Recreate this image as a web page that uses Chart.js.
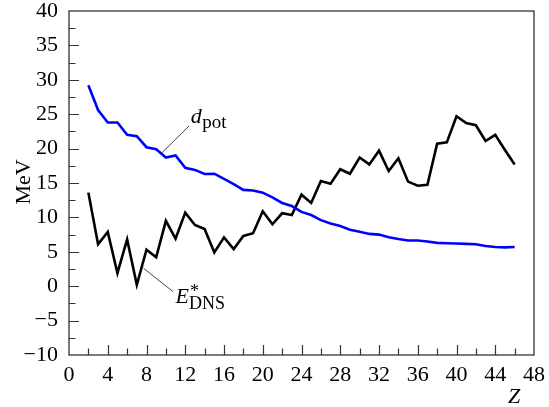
<!DOCTYPE html>
<html>
<head>
<meta charset="utf-8">
<script src="https://cdn.jsdelivr.net/npm/chart.js@4.4.1/dist/chart.umd.min.js"></script>
<style>
  html, body { margin: 0; padding: 0; background: #fff; }
  #wrap { width: 549px; height: 407px; }
</style>
</head>
<body>
<div id="wrap"><canvas id="c" width="549" height="407"></canvas></div>
<script>
// Atomic number Z
const zValues = [2, 3, 4, 5, 6, 7, 8, 9, 10, 11, 12, 13, 14, 15, 16,
  17, 18, 19, 20, 21, 22, 23, 24, 25, 26, 27, 28, 29, 30, 31, 32, 33,
  34, 35, 36, 37, 38, 39, 40, 41, 42, 43, 44, 45, 46];

// d_pot (MeV)
const dPot = [29.2, 25.6, 23.8, 23.8, 22.0, 21.8, 20.2, 19.9, 18.7, 19.0, 17.2, 16.9, 16.3, 16.35, 15.6,
  14.85, 14.0, 13.9, 13.6, 12.9, 12.1, 11.65, 10.8, 10.35, 9.6, 9.1, 8.75, 8.2, 7.9, 7.6, 7.5, 7.1,
  6.85, 6.65, 6.65, 6.5, 6.3, 6.25, 6.2, 6.15, 6.1, 5.85, 5.7, 5.65, 5.7];

// E*_DNS (MeV)
const eDns = [13.6, 6.1, 7.9, 1.9, 6.8, 0.2, 5.3, 4.2, 9.5, 6.9, 10.7, 8.9, 8.3, 4.9, 7.1,
  5.4, 7.3, 7.7, 10.9, 9.0, 10.6, 10.35, 13.3, 12.1, 15.3, 14.9, 17.0, 16.35, 18.7, 17.7, 19.7, 16.75,
  18.6, 15.2, 14.6, 14.75, 20.7, 20.9, 24.7, 23.7, 23.4, 21.1, 22.0, 19.8, 17.7];

// Axis ranges and tick steps
const xRange = [0, 48];
const yRange = [-10, 40];
const xMajorStep = 4, xMinorStep = 2;
const yMajorStep = 5, yMinorStep = 2.5;

// Curve labels: [Z, MeV] of label anchor and of leader-line ends
const dPotLabelAt = [12.56, 23.7];
const dPotLeader = [[12.4, 23.3], [9.6, 19.4]];
const eDnsLabelAt = [11.0, -2.5];
const eDnsLeader = [[7.7, 2.6], [10.75, -0.8]];

const SERIF = '"Liberation Serif", "Times New Roman", Times, serif';

const toPoints = (ys) => zValues.map((z, i) => ({ x: z, y: ys[i] }));
const fmtMinus = (v) => (v < 0 ? '\u2212' + Math.abs(v) : String(v));

const frameAndTicks = {
  id: 'frameAndTicks',
  afterDraw(chart) {
    const { ctx, chartArea: a, scales: { x, y } } = chart;
    ctx.save();
    ctx.strokeStyle = '#333';
    ctx.lineWidth = 1.3;
    ctx.strokeRect(a.left, a.top, a.right - a.left, a.bottom - a.top);
    ctx.lineWidth = 1.2;
    ctx.beginPath();
    for (let v = xRange[0] + xMinorStep; v < xRange[1]; v += xMinorStep) {
      const px = Math.round(x.getPixelForValue(v)) + 0.5;
      const len = (v % xMajorStep === 0) ? 10 : 6.5;
      ctx.moveTo(px, a.bottom);
      ctx.lineTo(px, a.bottom - len);
    }
    for (let v = yRange[0] + yMinorStep; v < yRange[1]; v += yMinorStep) {
      const py = Math.round(y.getPixelForValue(v)) + 0.5;
      const len = (Math.abs(v % yMajorStep) < 1e-9) ? 10 : 6.5;
      ctx.moveTo(a.left, py);
      ctx.lineTo(a.left + len, py);
    }
    ctx.stroke();

    // leader lines
    ctx.strokeStyle = '#444';
    ctx.lineWidth = 1;
    ctx.beginPath();
    [dPotLeader, eDnsLeader].forEach(([p, q]) => {
      ctx.moveTo(x.getPixelForValue(p[0]), y.getPixelForValue(p[1]));
      ctx.lineTo(x.getPixelForValue(q[0]), y.getPixelForValue(q[1]));
    });
    ctx.stroke();

    ctx.fillStyle = '#000';
    ctx.textBaseline = 'alphabetic';
    ctx.textAlign = 'left';

    // d_pot label
    let lx = x.getPixelForValue(dPotLabelAt[0]);
    let ly = y.getPixelForValue(dPotLabelAt[1]);
    ctx.font = 'italic 22px ' + SERIF;
    ctx.fillText('d', lx, ly);
    lx += ctx.measureText('d').width + 0.5;
    ctx.font = '19px ' + SERIF;
    ctx.fillText('pot', lx, ly + 5);

    // E*_DNS label
    lx = x.getPixelForValue(eDnsLabelAt[0]);
    ly = y.getPixelForValue(eDnsLabelAt[1]);
    ctx.font = 'italic 22px ' + SERIF;
    ctx.fillText('E', lx, ly);
    lx += ctx.measureText('E').width;
    ctx.font = '18px ' + SERIF;
    ctx.fillText('*', lx + 1, ly - 6);
    ctx.fillText('DNS', lx, ly + 6);

    // axis titles
    ctx.font = 'italic 22px ' + SERIF;
    ctx.textAlign = 'center';
    ctx.fillText('Z', 514, 403);
    ctx.save();
    ctx.translate(30, 182);
    ctx.rotate(-Math.PI / 2);
    ctx.font = '22px ' + SERIF;
    ctx.fillText('MeV', 0, 0);
    ctx.restore();
    ctx.restore();
  }
};

const zeroPad = (scale) => {
  scale.paddingTop = 0; scale.paddingBottom = 0;
  scale.paddingLeft = 0; scale.paddingRight = 0;
};

function draw() {
  new Chart(document.getElementById('c'), {
    type: 'line',
    data: {
      datasets: [
        { label: 'd_pot', data: toPoints(dPot), borderColor: '#0000ff', borderWidth: 2.6,
          pointRadius: 0, tension: 0, fill: false },
        { label: 'E*_DNS', data: toPoints(eDns), borderColor: '#000000', borderWidth: 2.6,
          pointRadius: 0, tension: 0, fill: false }
      ]
    },
    options: {
      responsive: false,
      devicePixelRatio: 1,
      animation: false,
      layout: { padding: { top: 11, right: 15, left: 0, bottom: 0 } },
      plugins: { legend: { display: false }, tooltip: { enabled: false } },
      scales: {
        x: {
          type: 'linear', min: xRange[0], max: xRange[1],
          grid: { display: false }, border: { display: false },
          ticks: { stepSize: xMajorStep, color: '#000', padding: 1,
            font: { family: SERIF, size: 22, lineHeight: 1.0 }, maxRotation: 0, autoSkip: false,
            callback: (v) => fmtMinus(v) },
          afterFit: (s) => { s.height = 52; zeroPad(s); }
        },
        y: {
          type: 'linear', min: yRange[0], max: yRange[1],
          grid: { display: false }, border: { display: false },
          ticks: { stepSize: yMajorStep, color: '#000', padding: 3,
            font: { family: SERIF, size: 22 }, autoSkip: false,
            callback: (v) => fmtMinus(v) },
          afterFit: (s) => { s.width = 69; zeroPad(s); }
        }
      }
    },
    plugins: [frameAndTicks]
  });
}

const fontReady = (document.fonts && document.fonts.load)
  ? Promise.all([
      document.fonts.load('22px "Liberation Serif"'),
      document.fonts.load('italic 22px "Liberation Serif"')
    ]).catch(() => null)
  : Promise.resolve();
fontReady.then(draw);
</script>
</body>
</html>
